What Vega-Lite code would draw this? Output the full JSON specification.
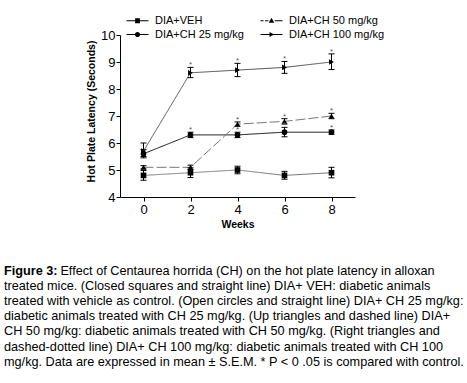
{
  "$schema": "https://vega.github.io/schema/vega-lite/v6.json",
  "width": 235,
  "height": 162,
  "autosize": {"type": "none"},
  "padding": {"left": 120, "top": 35, "right": 112, "bottom": 186},
  "background": "white",
  "config": {
    "font": "Liberation Sans",
    "view": {"stroke": null},
    "axis": {"grid": false, "domainColor": "black", "tickColor": "black", "labelColor": "black", "titleColor": "black", "labelFont": "Liberation Sans", "titleFont": "Liberation Sans"}
  },
  "title": {
    "text": "Figure 3:",
    "subtitle": [
      "\u200b\u00a0\u00a0\u00a0\u00a0\u00a0\u00a0\u00a0\u00a0\u00a0\u00a0\u00a0\u00a0\u00a0\u00a0\u00a0\u00a0Effect of Centaurea horrida (CH) on the hot plate latency in alloxan",
      "treated mice. (Closed squares and straight line) DIA+ VEH: diabetic animals",
      "treated with vehicle as control. (Open circles and straight line) DIA+ CH 25 mg/kg:",
      "diabetic animals treated with CH 25 mg/kg. (Up triangles and dashed line) DIA+",
      "CH 50 mg/kg: diabetic animals treated with CH 50 mg/kg. (Right triangles and",
      "dashed-dotted line) DIA+ CH 100 mg/kg: diabetic animals treated with CH 100",
      "mg/kg. Data are expressed in mean ± S.E.M. * P < 0 .05 is compared with control."
    ],
    "orient": "bottom",
    "anchor": "start",
    "frame": "group",
    "dx": -116,
    "offset": 35,
    "font": "Liberation Sans",
    "fontSize": 12.7,
    "fontWeight": "bold",
    "color": "black",
    "subtitleFont": "Liberation Sans",
    "subtitleFontSize": 12.7,
    "subtitleColor": "black",
    "subtitleLineHeight": 15.2,
    "subtitlePadding": -12.7
  },
  "data": {
    "values": [
      {"series": "DIA+VEH", "week": 0, "mean": 4.8, "lo": 4.62, "hi": 4.98, "sig": false},
      {"series": "DIA+VEH", "week": 2, "mean": 4.9, "lo": 4.72, "hi": 5.08, "sig": false},
      {"series": "DIA+VEH", "week": 4, "mean": 5.0, "lo": 4.86, "hi": 5.14, "sig": false},
      {"series": "DIA+VEH", "week": 6, "mean": 4.8, "lo": 4.66, "hi": 4.95, "sig": false},
      {"series": "DIA+VEH", "week": 8, "mean": 4.9, "lo": 4.71, "hi": 5.1, "sig": false},
      {"series": "DIA+CH 25 mg/kg", "week": 0, "mean": 5.6, "lo": 5.45, "hi": 5.75, "sig": false},
      {"series": "DIA+CH 25 mg/kg", "week": 2, "mean": 6.3, "lo": 6.2, "hi": 6.4, "sig": true},
      {"series": "DIA+CH 25 mg/kg", "week": 4, "mean": 6.3, "lo": 6.2, "hi": 6.4, "sig": true},
      {"series": "DIA+CH 25 mg/kg", "week": 6, "mean": 6.4, "lo": 6.23, "hi": 6.58, "sig": true},
      {"series": "DIA+CH 25 mg/kg", "week": 8, "mean": 6.4, "lo": 6.32, "hi": 6.48, "sig": true},
      {"series": "DIA+CH 50 mg/kg", "week": 0, "mean": 5.1, "lo": 5.04, "hi": 5.16, "sig": false},
      {"series": "DIA+CH 50 mg/kg", "week": 2, "mean": 5.1, "lo": 5.02, "hi": 5.18, "sig": false},
      {"series": "DIA+CH 50 mg/kg", "week": 4, "mean": 6.7, "lo": 6.62, "hi": 6.78, "sig": true},
      {"series": "DIA+CH 50 mg/kg", "week": 6, "mean": 6.8, "lo": 6.7, "hi": 6.9, "sig": true},
      {"series": "DIA+CH 50 mg/kg", "week": 8, "mean": 7.0, "lo": 6.9, "hi": 7.1, "sig": true},
      {"series": "DIA+CH 100 mg/kg", "week": 0, "mean": 5.7, "lo": 5.5, "hi": 6.0, "sig": false},
      {"series": "DIA+CH 100 mg/kg", "week": 2, "mean": 8.6, "lo": 8.42, "hi": 8.8, "sig": true},
      {"series": "DIA+CH 100 mg/kg", "week": 4, "mean": 8.7, "lo": 8.46, "hi": 8.95, "sig": true},
      {"series": "DIA+CH 100 mg/kg", "week": 6, "mean": 8.8, "lo": 8.58, "hi": 9.02, "sig": true},
      {"series": "DIA+CH 100 mg/kg", "week": 8, "mean": 9.0, "lo": 8.72, "hi": 9.3, "sig": true}
    ]
  },
  "encoding": {
    "x": {
      "field": "week", "type": "quantitative",
      "scale": {"domain": [-1, 9], "nice": false, "zero": false},
      "axis": {"values": [0, 2, 4, 6, 8], "labelFontSize": 13, "tickSize": 4, "labelPadding": 2, "title": "Weeks", "titleFontSize": 10.5, "titleFontWeight": "bold", "titlePadding": 3, "labelFlush": false}
    }
  },
  "layer": [
    {
      "mark": {"type": "line", "strokeWidth": 1},
      "encoding": {
        "y": {"field": "mean", "type": "quantitative", "scale": {"domain": [4, 10], "nice": false, "zero": false},
          "axis": {"values": [4, 5, 6, 7, 8, 9, 10], "labelOverlap": false, "labelFontSize": 13, "tickSize": 4, "labelPadding": 1, "title": "Hot Plate Latency (Seconds)", "titleFontSize": 10.5, "titleFontWeight": "bold", "titlePadding": 4, "titleY": 76}},
        "detail": {"field": "series"},
        "color": {"field": "series", "type": "nominal", "legend": null,
          "scale": {"domain": ["DIA+VEH", "DIA+CH 25 mg/kg", "DIA+CH 50 mg/kg", "DIA+CH 100 mg/kg"], "range": ["#777777", "#111111", "#777777", "#555555"]}},
        "strokeDash": {"field": "series", "type": "nominal", "legend": null,
          "scale": {"domain": ["DIA+VEH", "DIA+CH 25 mg/kg", "DIA+CH 50 mg/kg", "DIA+CH 100 mg/kg"], "range": [[1, 0], [1, 0], [10, 3], [1, 0]]}}
      }
    },
    {
      "mark": {"type": "rule", "color": "black", "strokeWidth": 1},
      "encoding": {
        "y": {"field": "lo", "type": "quantitative",
          "axis": {"values": [4, 5, 6, 7, 8, 9, 10], "labelOverlap": false, "labelFontSize": 13, "tickSize": 4, "labelPadding": 1, "title": "Hot Plate Latency (Seconds)", "titleFontSize": 10.5, "titleFontWeight": "bold", "titlePadding": 4, "titleY": 76}},
        "y2": {"field": "hi"}
      }
    },
    {
      "mark": {"type": "tick", "orient": "horizontal", "color": "black", "size": 6, "thickness": 1, "opacity": 1},
      "encoding": {"y": {"field": "lo", "type": "quantitative",
          "axis": {"values": [4, 5, 6, 7, 8, 9, 10], "labelOverlap": false, "labelFontSize": 13, "tickSize": 4, "labelPadding": 1, "title": "Hot Plate Latency (Seconds)", "titleFontSize": 10.5, "titleFontWeight": "bold", "titlePadding": 4, "titleY": 76}}}
    },
    {
      "mark": {"type": "tick", "orient": "horizontal", "color": "black", "size": 6, "thickness": 1, "opacity": 1},
      "encoding": {"y": {"field": "hi", "type": "quantitative",
          "axis": {"values": [4, 5, 6, 7, 8, 9, 10], "labelOverlap": false, "labelFontSize": 13, "tickSize": 4, "labelPadding": 1, "title": "Hot Plate Latency (Seconds)", "titleFontSize": 10.5, "titleFontWeight": "bold", "titlePadding": 4, "titleY": 76}}}
    },
    {
      "mark": {"type": "point", "filled": true, "color": "black", "opacity": 1, "size": 32},
      "encoding": {
        "y": {"field": "mean", "type": "quantitative",
          "axis": {"values": [4, 5, 6, 7, 8, 9, 10], "labelOverlap": false, "labelFontSize": 13, "tickSize": 4, "labelPadding": 1, "title": "Hot Plate Latency (Seconds)", "titleFontSize": 10.5, "titleFontWeight": "bold", "titlePadding": 4, "titleY": 76}},
        "shape": {"field": "series", "type": "nominal", "legend": null,
          "scale": {"domain": ["DIA+VEH", "DIA+CH 25 mg/kg", "DIA+CH 50 mg/kg", "DIA+CH 100 mg/kg"], "range": ["square", "circle", "triangle-up", "triangle-right"]}}
      }
    },
    {
      "transform": [{"filter": "datum.sig"}],
      "mark": {"type": "text", "text": "*", "fontSize": 8, "baseline": "alphabetic", "color": "#555555"},
      "encoding": {"y": {"field": "hi", "type": "quantitative",
          "axis": {"values": [4, 5, 6, 7, 8, 9, 10], "labelOverlap": false, "labelFontSize": 13, "tickSize": 4, "labelPadding": 1, "title": "Hot Plate Latency (Seconds)", "titleFontSize": 10.5, "titleFontWeight": "bold", "titlePadding": 4, "titleY": 76}}}
    },
    {
      "transform": [{"filter": "false"}],
      "mark": {"type": "point", "filled": true, "color": "black", "opacity": 1, "size": 64},
      "encoding": {
        "y": {"field": "mean", "type": "quantitative",
          "axis": {"values": [4, 5, 6, 7, 8, 9, 10], "labelOverlap": false, "labelFontSize": 13, "tickSize": 4, "labelPadding": 1, "title": "Hot Plate Latency (Seconds)", "titleFontSize": 10.5, "titleFontWeight": "bold", "titlePadding": 4, "titleY": 76}},
        "shape": {"field": "series", "type": "nominal",
          "scale": {"domain": ["DIA+VEH", "DIA+CH 25 mg/kg", "DIA+CH 50 mg/kg", "DIA+CH 100 mg/kg"],
            "range": [
              "M-2.75,-0.12H2.75V0.12H-2.75ZM-0.6,-0.6H0.6V0.6H-0.6Z",
              "M-2.75,-0.12H2.75V0.12H-2.75ZM0.65,0A0.65,0.65,0,1,1,-0.65,0A0.65,0.65,0,1,1,0.65,0Z",
              "M-2.75,-0.12H-2.0V0.12H-2.75ZM-1.6,-0.12H-0.8V0.12H-1.6ZM0.8,-0.12H2.75V0.12H0.8ZM0,-0.75L0.7,0.5H-0.7Z",
              "M-2.75,-0.12H2.75V0.12H-2.75ZM-0.5,-0.65L0.65,0L-0.5,0.65Z"
            ]},
          "legend": {
            "title": null, "orient": "none", "legendX": 12, "legendY": -20, "columns": 2,
            "columnPadding": 16, "rowPadding": 2, "padding": 0,
            "labelFont": "Liberation Sans", "labelFontSize": 11, "labelColor": "black", "labelOffset": 12,
            "symbolSize": 64, "symbolFillColor": "black", "symbolStrokeWidth": 0
          }
        }
      }
    }
  ],
  "resolve": {"scale": {"shape": "independent"}, "legend": {"shape": "independent"}}
}
